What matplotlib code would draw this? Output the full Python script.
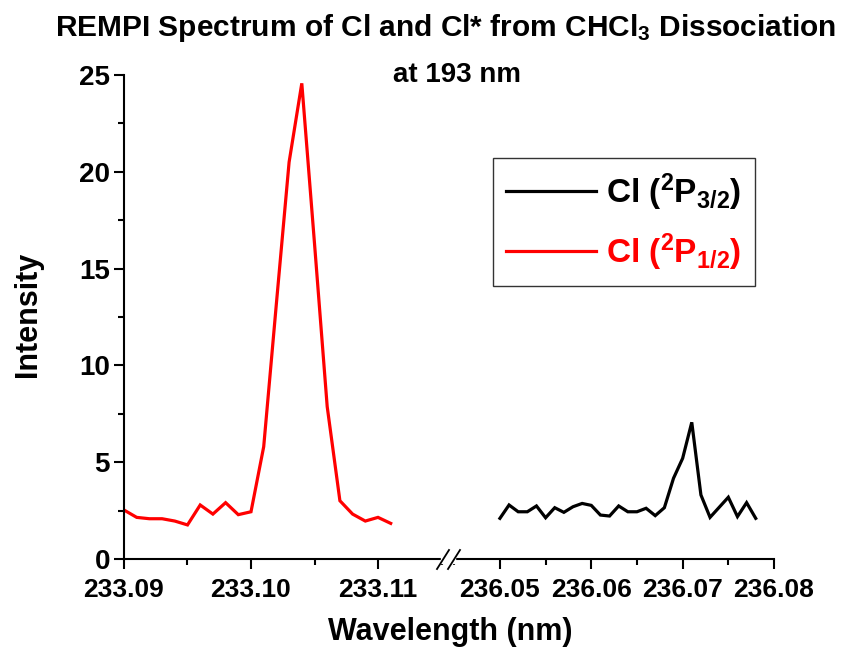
"""REMPI spectrum of Cl / Cl* from CHCl3 photodissociation at 193 nm (broken x axis)."""

import matplotlib
matplotlib.use("Agg")
import matplotlib.pyplot as plt
from matplotlib.lines import Line2D
from matplotlib.patches import Rectangle
from matplotlib.ticker import MultipleLocator, FormatStrFormatter

# ── data ──────────────────────────────────────────────────────────────────────
# Cl* (2P1/2) scan, 233.090 .. 233.111 nm
wl_cl_star = [233.090, 233.091, 233.092, 233.093, 233.094, 233.095, 233.096,
              233.097, 233.098, 233.099, 233.100, 233.101, 233.102, 233.103,
              233.104, 233.105, 233.106, 233.107, 233.108, 233.109, 233.110,
              233.111]
int_cl_star = [2.53, 2.15, 2.08, 2.08, 1.96, 1.76, 2.79, 2.32, 2.91, 2.29,
               2.44, 5.80, 13.2, 20.5, 24.57, 16.3, 7.87, 3.01, 2.32, 1.96,
               2.15, 1.84]

# Cl (2P3/2) scan, 236.050 .. 236.078 nm
wl_cl = [236.050, 236.051, 236.052, 236.053, 236.054, 236.055, 236.056,
         236.057, 236.058, 236.059, 236.060, 236.061, 236.062, 236.063,
         236.064, 236.065, 236.066, 236.067, 236.068, 236.069, 236.070,
         236.071, 236.072, 236.073, 236.074, 236.075, 236.076, 236.077,
         236.078]
int_cl = [2.10, 2.79, 2.44, 2.44, 2.74, 2.13, 2.65, 2.41, 2.70, 2.87,
          2.77, 2.27, 2.22, 2.74, 2.44, 2.44, 2.62, 2.24, 2.65, 4.17,
          5.20, 7.06, 3.31, 2.15, 2.67, 3.19, 2.19, 2.91, 2.10]

left_ticks = [233.09, 233.10, 233.11]
right_ticks = [236.05, 236.06, 236.07, 236.08]

# ── style ─────────────────────────────────────────────────────────────────────
FONT = "Liberation Sans"
plt.rcParams.update({
    "font.family": FONT,
    "font.weight": "bold",
    "mathtext.fontset": "custom",
    "mathtext.rm": f"{FONT}:bold",
    "mathtext.bf": f"{FONT}:bold",
    "mathtext.default": "rm",
    "axes.linewidth": 1.5,
})

W, H = 862, 649
fig = plt.figure(figsize=(W / 100, H / 100), dpi=100)


def fx(px):
    return px / W


def fy(py):
    return 1 - py / H


x0, xbrk, x1 = 124, 448, 774
ytop, ybot = 75, 559
axL = fig.add_axes([fx(x0), fy(ybot), fx(xbrk - x0), (ybot - ytop) / H])
axR = fig.add_axes([fx(xbrk), fy(ybot), fx(x1 - xbrk), (ybot - ytop) / H])

lw = 2.3
axL.plot(wl_cl_star, int_cl_star, color="#ff0000", lw=lw, solid_joinstyle="miter")
axR.plot(wl_cl, int_cl, color="black", lw=lw, solid_joinstyle="miter")

axL.set_xlim(233.09, 233.09 + (xbrk - x0) / 12700)
axR.set_xlim(236.05 - 52 / 9150, 236.08)
for ax in (axL, axR):
    ax.set_ylim(0, 25)
    ax.patch.set_visible(False)
    for side in ("top", "right"):
        ax.spines[side].set_visible(False)
    ax.tick_params(axis="x", which="major", direction="out", length=7,
                   width=1.5, labelsize=19, pad=7)
    ax.tick_params(axis="x", which="minor", direction="out", length=4.5,
                   width=1.5)
    ax.xaxis.set_minor_locator(MultipleLocator(0.005))
    ax.xaxis.set_major_formatter(FormatStrFormatter("%.2f"))

axL.set_xticks(left_ticks)
axR.set_xticks(right_ticks)
axR.spines["left"].set_visible(False)
axR.tick_params(axis="y", left=False, labelleft=False, which="both")

axL.yaxis.set_major_locator(MultipleLocator(5))
axL.yaxis.set_minor_locator(MultipleLocator(2.5))
axL.tick_params(axis="y", which="major", direction="out", length=7,
                width=1.5, labelsize=20, pad=3)
axL.tick_params(axis="y", which="minor", direction="out", length=4.5, width=1.5)

# axis break marks
fig.patches.append(Rectangle((fx(441), fy(563)), fx(14), 8 / H,
                             transform=fig.transFigure, color="white",
                             zorder=5))
for dx in (0, 11):
    fig.add_artist(Line2D([fx(437 + dx), fx(449 + dx)], [fy(569), fy(550)],
                          transform=fig.transFigure, color="black", lw=1.3,
                          zorder=6))

# labels
fig.text(fx(450), fy(632), "Wavelength (nm)", ha="center", va="center",
         fontsize=22)
fig.text(fx(28), fy(314), "Intensity", ha="center", va="center",
         fontsize=22, rotation=90)
fig.text(fx(446), fy(28), r"REMPI Spectrum of Cl and Cl* from CHCl$_3$ Dissociation",
         ha="center", va="center", fontsize=21.5)
fig.text(fx(457), fy(75), "at 193 nm", ha="center", va="center", fontsize=20)

# legend
handles = [Line2D([], [], color="black", lw=lw),
           Line2D([], [], color="#ff0000", lw=lw)]
labels = [r"Cl ($^2$P$_{3/2}$)", r"Cl ($^2$P$_{1/2}$)"]
leg = fig.legend(handles, labels, loc="upper left",
                 bbox_to_anchor=(fx(493), fy(158)), fontsize=24,
                 frameon=True, fancybox=False, edgecolor="black",
                 handlelength=2.7, handletextpad=0.3, labelspacing=0.55,
                 borderpad=0.4, borderaxespad=0)
leg.get_frame().set_linewidth(1.0)
leg.get_texts()[1].set_color("#ff0000")

fig.savefig("out.png", dpi=100)
